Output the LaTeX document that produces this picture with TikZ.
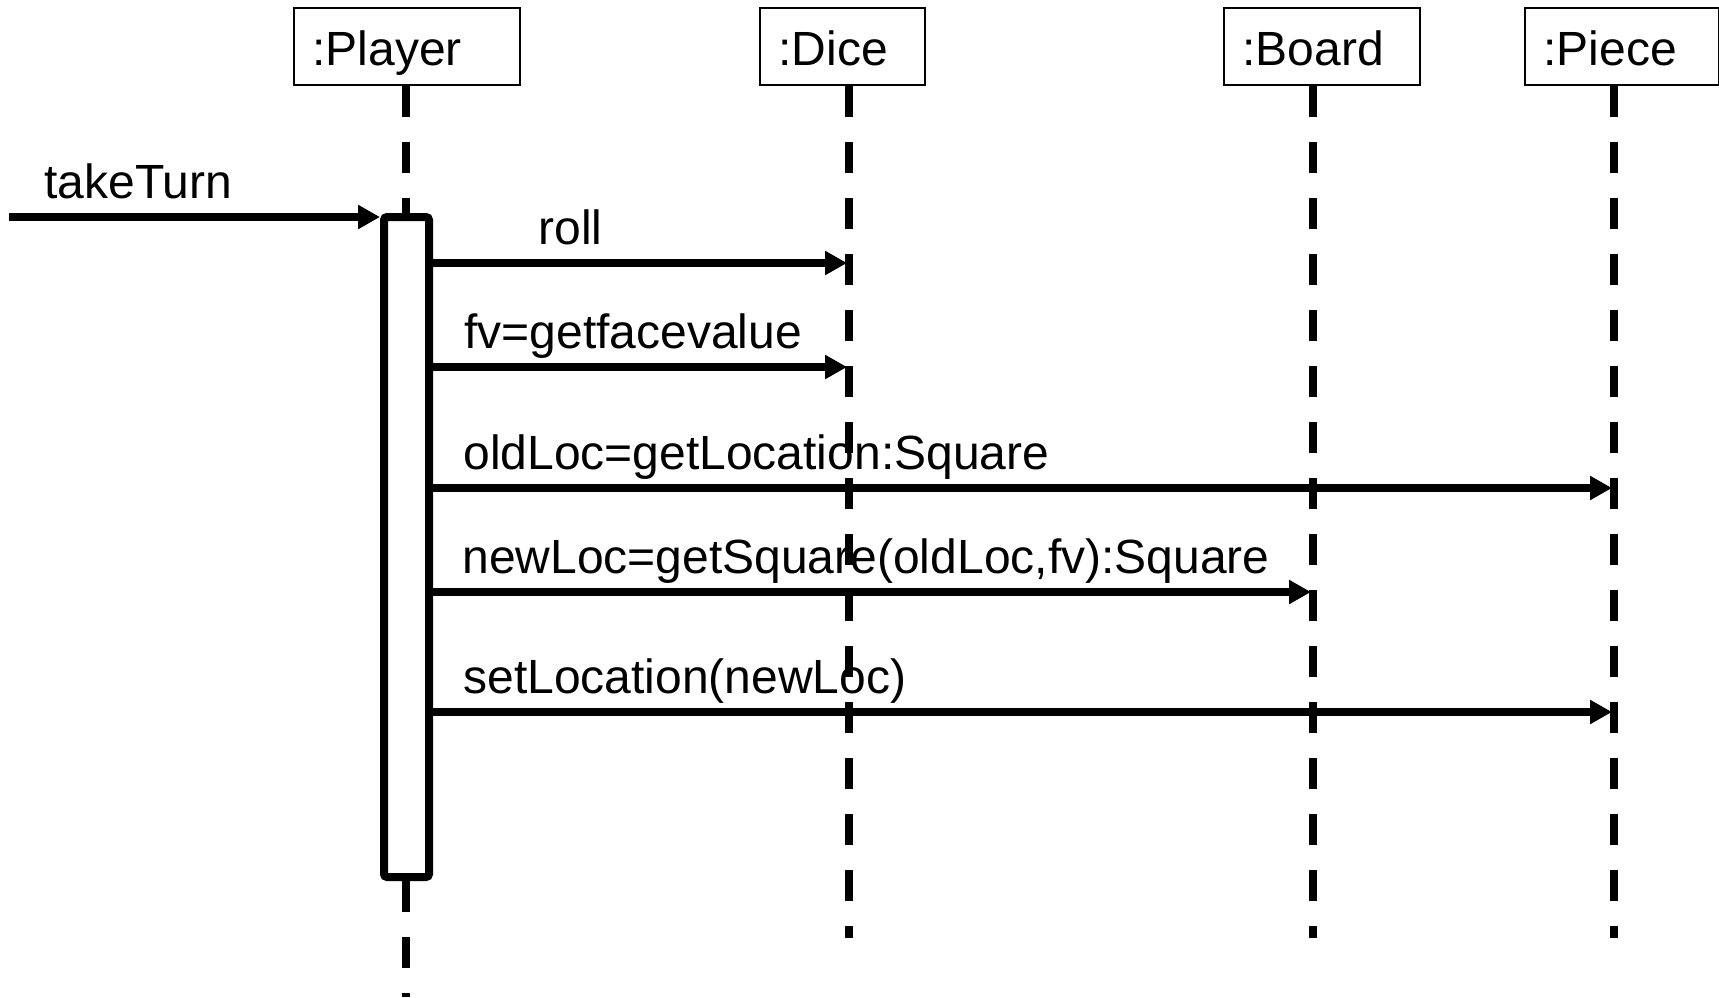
\documentclass[tikz,border=0pt]{standalone}
\usepackage{fontspec}
\setmainfont{Liberation Sans}
\usetikzlibrary{arrows.meta}

\begin{document}
\begin{tikzpicture}[x=0.5pt,y=-0.5pt,
  every node/.style={font=\fontsize{24}{28}\selectfont},
  object/.style={draw,line width=1pt,minimum height=38.5pt,inner xsep=9.2pt,inner ysep=0pt,
    text height=18.5pt,text depth=0pt,align=left,anchor=north west},
  lifeline/.style={line width=4.15pt,dash pattern=on 15.5pt off 12.5pt},
  activation/.style={draw,fill=white,line width=4pt,rounded corners=1.5pt,
    minimum width=22.5pt,minimum height=330pt,inner sep=0pt},
  msg/.style={line width=3.6pt,-{Triangle[length=11pt,width=11.5pt]},shorten >=1pt},
  msglabel/.style={anchor=base west,inner sep=0pt}]
\fill[white] (0,0) rectangle (1719,997);
\useasboundingbox (0,0) rectangle (1719,997);

\node[object,text width=94.6pt] (player) at (293,7) {:Player};
\node[object,text width=64.1pt] (dice) at (759,7) {:Dice};
\node[object,text width=79.6pt] (board) at (1223,7) {:Board};
\node[object,text width=78.6pt] (piece) at (1524,7) {:Piece};

\coordinate (player end) at (406,997);
\coordinate (dice end) at (849,938);
\coordinate (board end) at (1313,938);
\coordinate (piece end) at (1614,938);

\node[activation] (act) at (406.5,547) {};

\draw[lifeline] (player.south -| player end) -- (act.north -| player end);
\draw[lifeline] (act.south -| player end) -- (player end);
\draw[lifeline] (dice.south -| dice end) -- (dice end);
\draw[lifeline] (board.south -| board end) -- (board end);
\draw[lifeline] (piece.south -| piece end) -- (piece end);

\coordinate (caller) at (9,217);
\coordinate (roll) at (0,263);
\coordinate (fv) at (0,367);
\coordinate (oldloc) at (0,488);
\coordinate (newloc) at (0,592);
\coordinate (setloc) at (0,712);

\draw[msg,shorten >=0pt] (caller) -- (caller -| act.west);
\draw[msg] (act.east |- roll) -- (dice end |- roll);
\draw[msg] (act.east |- fv) -- (dice end |- fv);
\draw[msg] (act.east |- oldloc) -- (piece end |- oldloc);
\draw[msg] (act.east |- newloc) -- (board end |- newloc);
\draw[msg] (act.east |- setloc) -- (piece end |- setloc);

\node[msglabel] (turn label) at (44,198.5) {takeTurn};
\node[msglabel] (roll label) at (538,244.5) {roll};
\node[msglabel] (fv label) at (464,348.5) {fv=getfacevalue};
\node[msglabel] (oldloc label) at (463,469.5) {oldLoc=getLocation:Square};
\node[msglabel] (newloc label) at (462,573.5) {newLoc=getSquare(oldLoc,fv):Square};
\node[msglabel] (setloc label) at (463,693.5) {setLocation(newLoc)};
\end{tikzpicture}
\end{document}
